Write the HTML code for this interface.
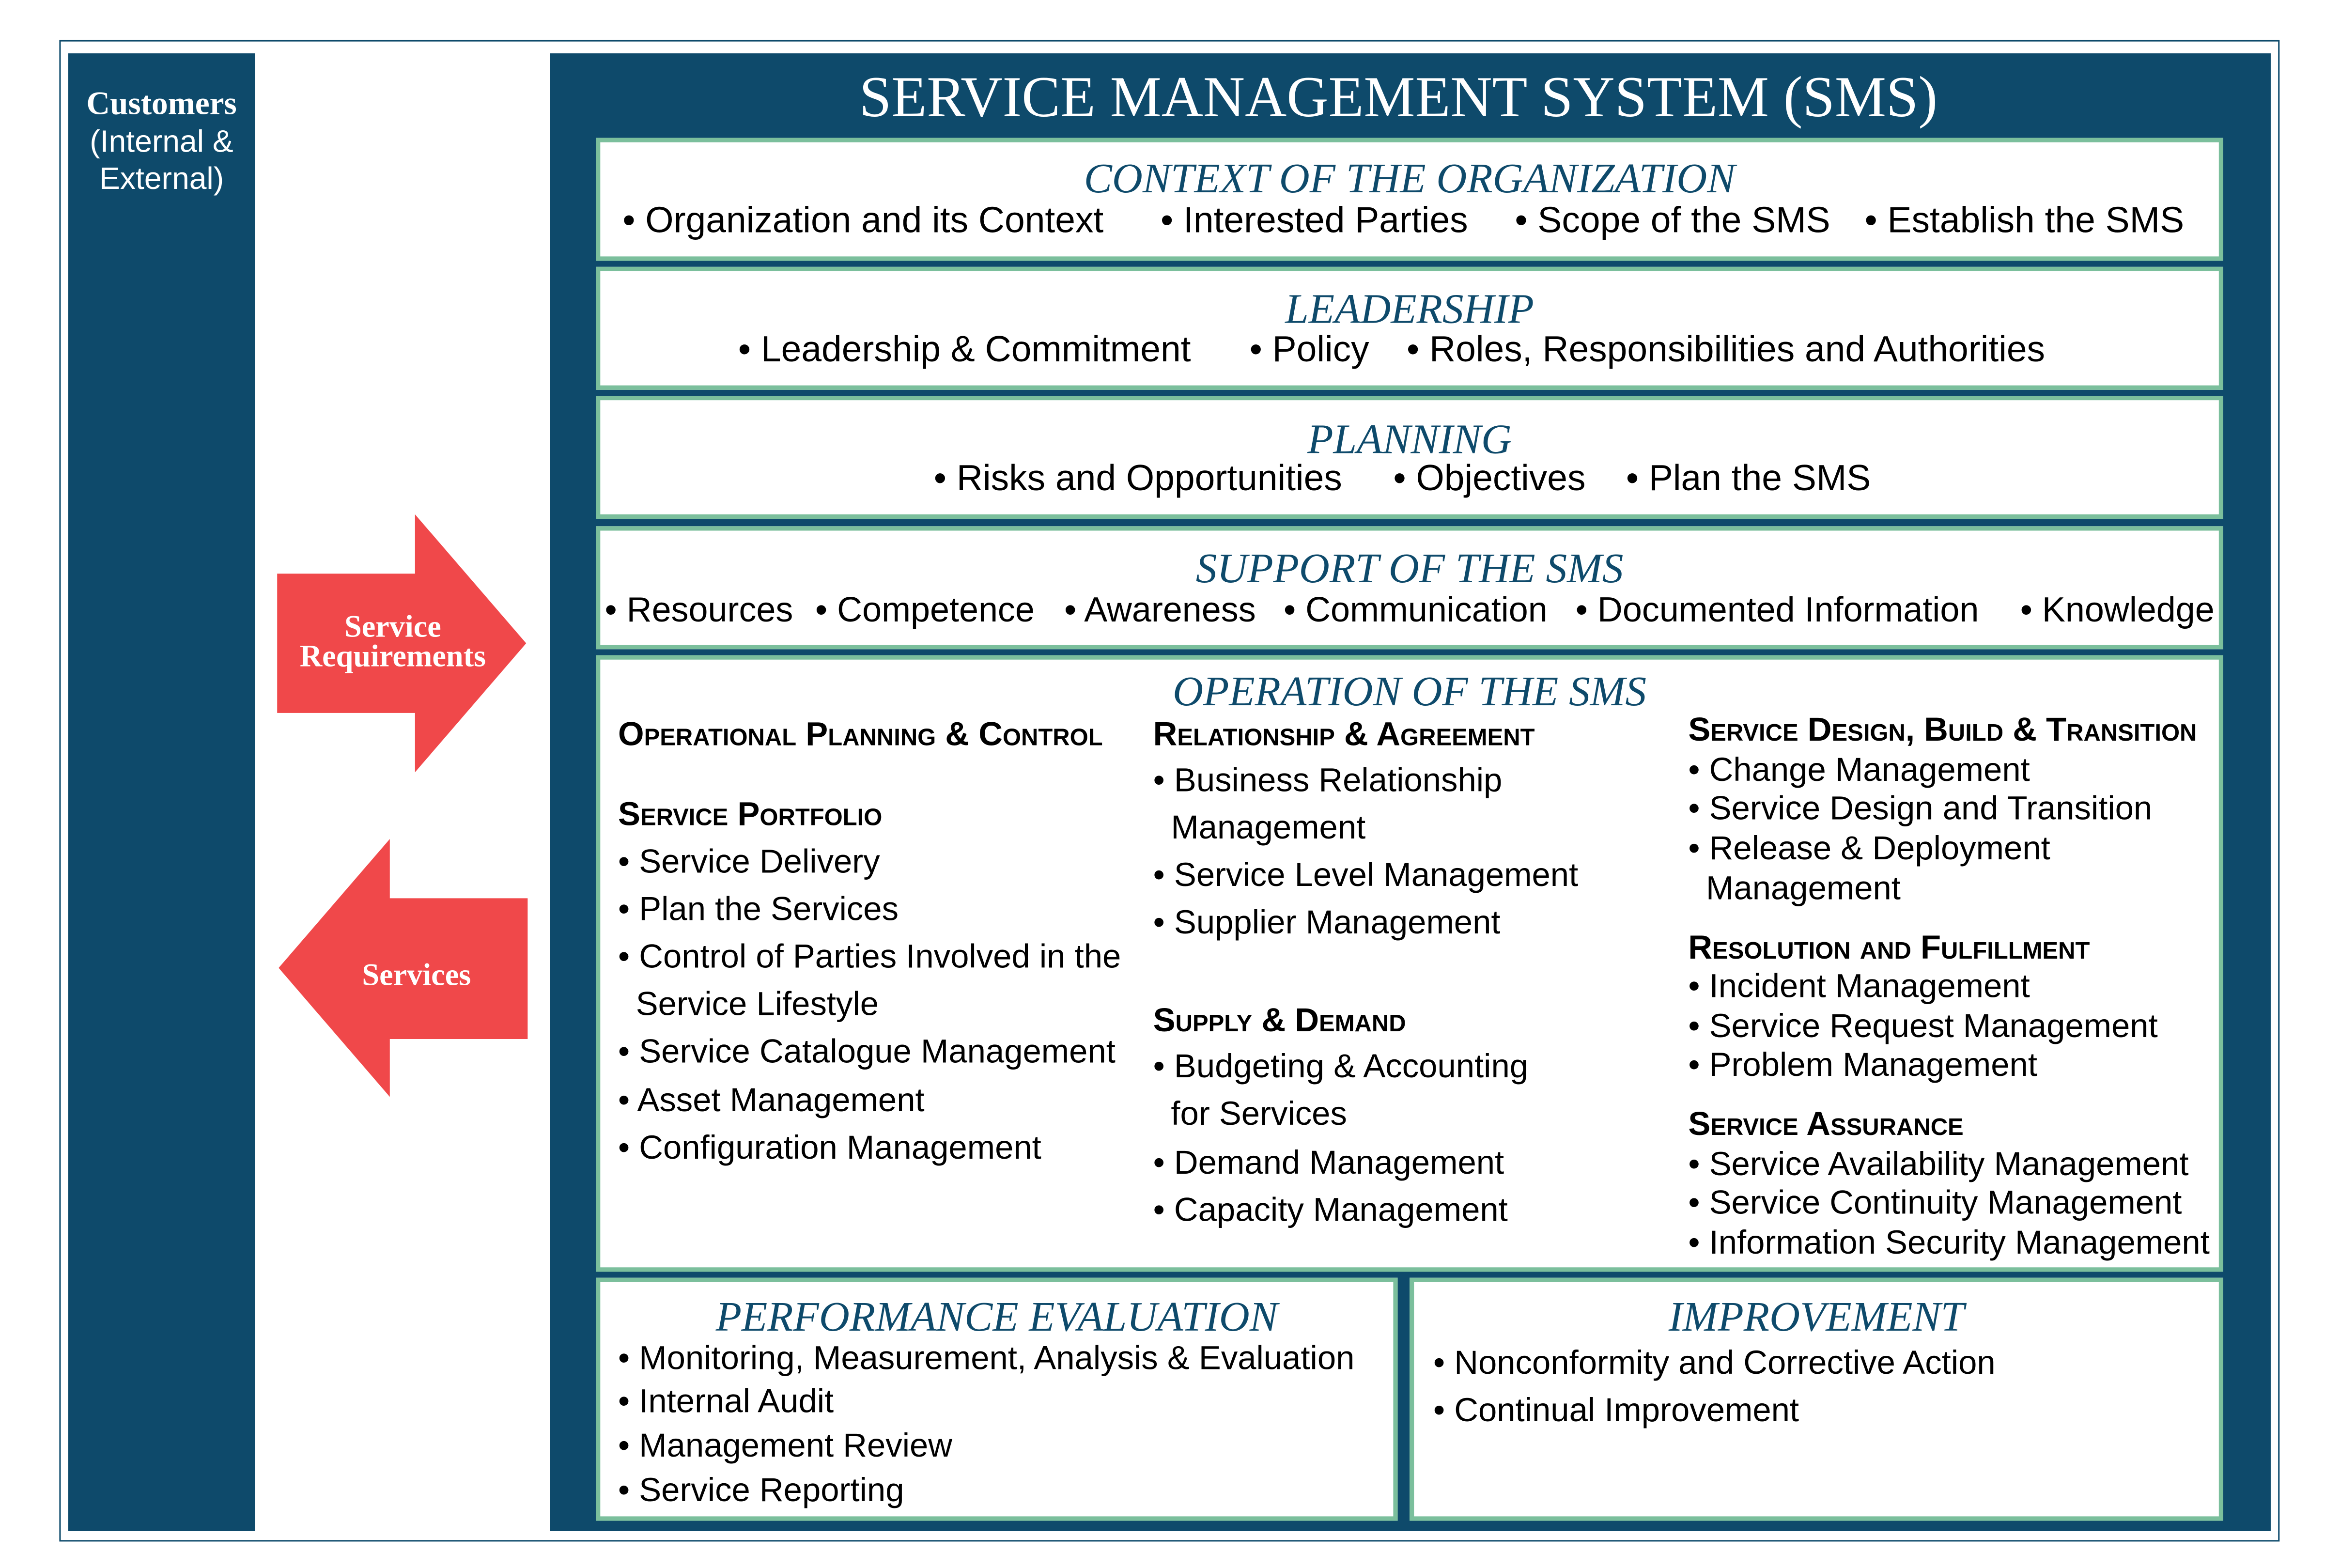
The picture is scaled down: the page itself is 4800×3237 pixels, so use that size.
<!DOCTYPE html>
<html><head><meta charset="utf-8">
<style>
html,body{margin:0;padding:0;background:#fff;}
body{width:4800px;height:3235px;overflow:hidden;position:relative;}
#s{position:absolute;left:0;top:0;width:1570px;height:1058px;transform:scale(3.060);transform-origin:0 0;}
.a{position:absolute;}
.t{position:absolute;white-space:nowrap;line-height:1;transform:translateY(-50%);font-family:"Liberation Sans",sans-serif;color:#000;}
.i{font-size:22.5px;}
.r{font-size:24.5px;}
.c3{font-size:22.5px;}
.h{font-size:22.5px;font-weight:bold;font-variant:small-caps;}
.ti{font-family:"Liberation Serif",serif;font-style:italic;color:#0e4a6b;font-size:28.5px;left:0;width:100%;text-align:center;}
.box{position:absolute;background:#fff;border:3px solid #7bbf9c;box-sizing:border-box;}
.w{color:#fff;}
</style></head><body><div id="s">
<div class="a" style="left:40px;top:27px;width:1498px;height:1013px;border:1px solid #0e4a6b;box-sizing:border-box;"></div>
<div class="a" style="left:46px;top:36px;width:126px;height:997px;background:#0e4a6b;"></div>
<div class="t w" style="left:46px;width:126px;text-align:center;top:70px;font-family:'Liberation Serif',serif;font-size:22px;font-weight:bold;">Customers</div>
<div class="t w" style="left:46px;width:126px;text-align:center;top:96px;font-size:21px;">(Internal &amp;</div>
<div class="t w" style="left:46px;width:126px;text-align:center;top:121px;font-size:21px;">External)</div>

<svg class="a" style="left:0;top:0" width="1570" height="1058">
<polygon points="187,387 280,387 280,347 355,434 280,521 280,481 187,481" fill="#f0484a"/>
<polygon points="356,606 263,606 263,566 188,653 263,740 263,701 356,701" fill="#f0484a"/>
</svg>
<div class="t w" style="left:190px;width:150px;text-align:center;top:423px;font-family:'Liberation Serif',serif;font-size:21px;font-weight:bold;">Service</div>
<div class="t w" style="left:190px;width:150px;text-align:center;top:443px;font-family:'Liberation Serif',serif;font-size:21px;font-weight:bold;">Requirements</div>
<div class="t w" style="left:206px;width:150px;text-align:center;top:658px;font-family:'Liberation Serif',serif;font-size:21px;font-weight:bold;">Services</div>

<div class="a" style="left:371px;top:36px;width:1161px;height:997px;background:#0e4a6b;"></div>
<div class="t w" style="left:371px;width:1145px;text-align:center;top:66px;font-family:'Liberation Serif',serif;font-size:39px;">SERVICE MANAGEMENT SYSTEM (SMS)</div>

<div class="box" style="left:402px;top:93px;width:1098px;height:83px;"><div class="t ti" style="top:26px;">CONTEXT OF THE ORGANIZATION</div></div>
<div class="t r" style="left:420px;top:150px;">• Organization and its Context</div>
<div class="t r" style="left:783px;top:150px;">• Interested Parties</div>
<div class="t r" style="left:1022px;top:150px;">• Scope of the SMS</div>
<div class="t r" style="left:1258px;top:150px;">• Establish the SMS</div>

<div class="box" style="left:402px;top:180px;width:1098px;height:83px;"><div class="t ti" style="top:27px;">LEADERSHIP</div></div>
<div class="t r" style="left:498px;top:237px;">• Leadership &amp; Commitment</div>
<div class="t r" style="left:843px;top:237px;">• Policy</div>
<div class="t r" style="left:949px;top:237px;">• Roles, Responsibilities and Authorities</div>

<div class="box" style="left:402px;top:267px;width:1098px;height:83px;"><div class="t ti" style="top:28px;">PLANNING</div></div>
<div class="t r" style="left:630px;top:324px;">• Risks and Opportunities</div>
<div class="t r" style="left:940px;top:324px;">• Objectives</div>
<div class="t r" style="left:1097px;top:324px;">• Plan the SMS</div>

<div class="box" style="left:402px;top:355px;width:1098px;height:83px;"><div class="t ti" style="top:27px;">SUPPORT OF THE SMS</div></div>
<div class="t i" style="left:408px;top:412px;font-size:23.5px;">• Resources</div>
<div class="t i" style="left:550px;top:412px;font-size:23.5px;">• Competence</div>
<div class="t i" style="left:718px;top:412px;font-size:23.5px;">• Awareness</div>
<div class="t i" style="left:866px;top:412px;font-size:23.5px;">• Communication</div>
<div class="t i" style="left:1063px;top:412px;font-size:23.5px;">• Documented Information</div>
<div class="t i" style="left:1363px;top:412px;font-size:23.5px;">• Knowledge</div>

<div class="box" style="left:402px;top:442px;width:1098px;height:416px;"><div class="t ti" style="top:23px;">OPERATION OF THE SMS</div></div>
<div class="t h" style="left:417px;top:496px;">Operational Planning &amp; Control</div>
<div class="t h" style="left:417px;top:550px;">Service Portfolio</div>
<div class="t i" style="left:417px;top:582px;">• Service Delivery</div>
<div class="t i" style="left:417px;top:614px;">• Plan the Services</div>
<div class="t i" style="left:417px;top:646px;">• Control of Parties Involved in the</div>
<div class="t i" style="left:429px;top:678px;">Service Lifestyle</div>
<div class="t i" style="left:417px;top:710px;">• Service Catalogue Management</div>
<div class="t i" style="left:417px;top:743px;">• Asset Management</div>
<div class="t i" style="left:417px;top:775px;">• Configuration Management</div>

<div class="t h" style="left:778px;top:496px;">Relationship &amp; Agreement</div>
<div class="t i" style="left:778px;top:527px;">• Business Relationship</div>
<div class="t i" style="left:790px;top:559px;">Management</div>
<div class="t i" style="left:778px;top:591px;">• Service Level Management</div>
<div class="t i" style="left:778px;top:623px;">• Supplier Management</div>
<div class="t h" style="left:778px;top:689px;">Supply &amp; Demand</div>
<div class="t i" style="left:778px;top:720px;">• Budgeting &amp; Accounting</div>
<div class="t i" style="left:790px;top:752px;">for Services</div>
<div class="t i" style="left:778px;top:785px;">• Demand Management</div>
<div class="t i" style="left:778px;top:817px;">• Capacity Management</div>

<div class="t h" style="left:1139px;top:493px;">Service Design, Build &amp; Transition</div>
<div class="t c3" style="left:1139px;top:520px;">• Change Management</div>
<div class="t c3" style="left:1139px;top:546px;">• Service Design and Transition</div>
<div class="t c3" style="left:1139px;top:573px;">• Release &amp; Deployment</div>
<div class="t c3" style="left:1151px;top:600px;">Management</div>
<div class="t h" style="left:1139px;top:640px;">Resolution and Fulfillment</div>
<div class="t c3" style="left:1139px;top:666px;">• Incident Management</div>
<div class="t c3" style="left:1139px;top:693px;">• Service Request Management</div>
<div class="t c3" style="left:1139px;top:719px;">• Problem Management</div>
<div class="t h" style="left:1139px;top:759px;">Service Assurance</div>
<div class="t c3" style="left:1139px;top:786px;">• Service Availability Management</div>
<div class="t c3" style="left:1139px;top:812px;">• Service Continuity Management</div>
<div class="t c3" style="left:1139px;top:839px;">• Information Security Management</div>

<div class="box" style="left:402px;top:862px;width:541px;height:164px;"><div class="t ti" style="top:25px;">PERFORMANCE EVALUATION</div></div>
<div class="t i" style="left:417px;top:917px;">• Monitoring, Measurement, Analysis &amp; Evaluation</div>
<div class="t i" style="left:417px;top:946px;">• Internal Audit</div>
<div class="t i" style="left:417px;top:976px;">• Management Review</div>
<div class="t i" style="left:417px;top:1006px;">• Service Reporting</div>

<div class="box" style="left:951px;top:862px;width:549px;height:164px;"><div class="t ti" style="top:25px;">IMPROVEMENT</div></div>
<div class="t i" style="left:967px;top:920px;">• Nonconformity and Corrective Action</div>
<div class="t i" style="left:967px;top:952px;">• Continual Improvement</div>
</div></body></html>
